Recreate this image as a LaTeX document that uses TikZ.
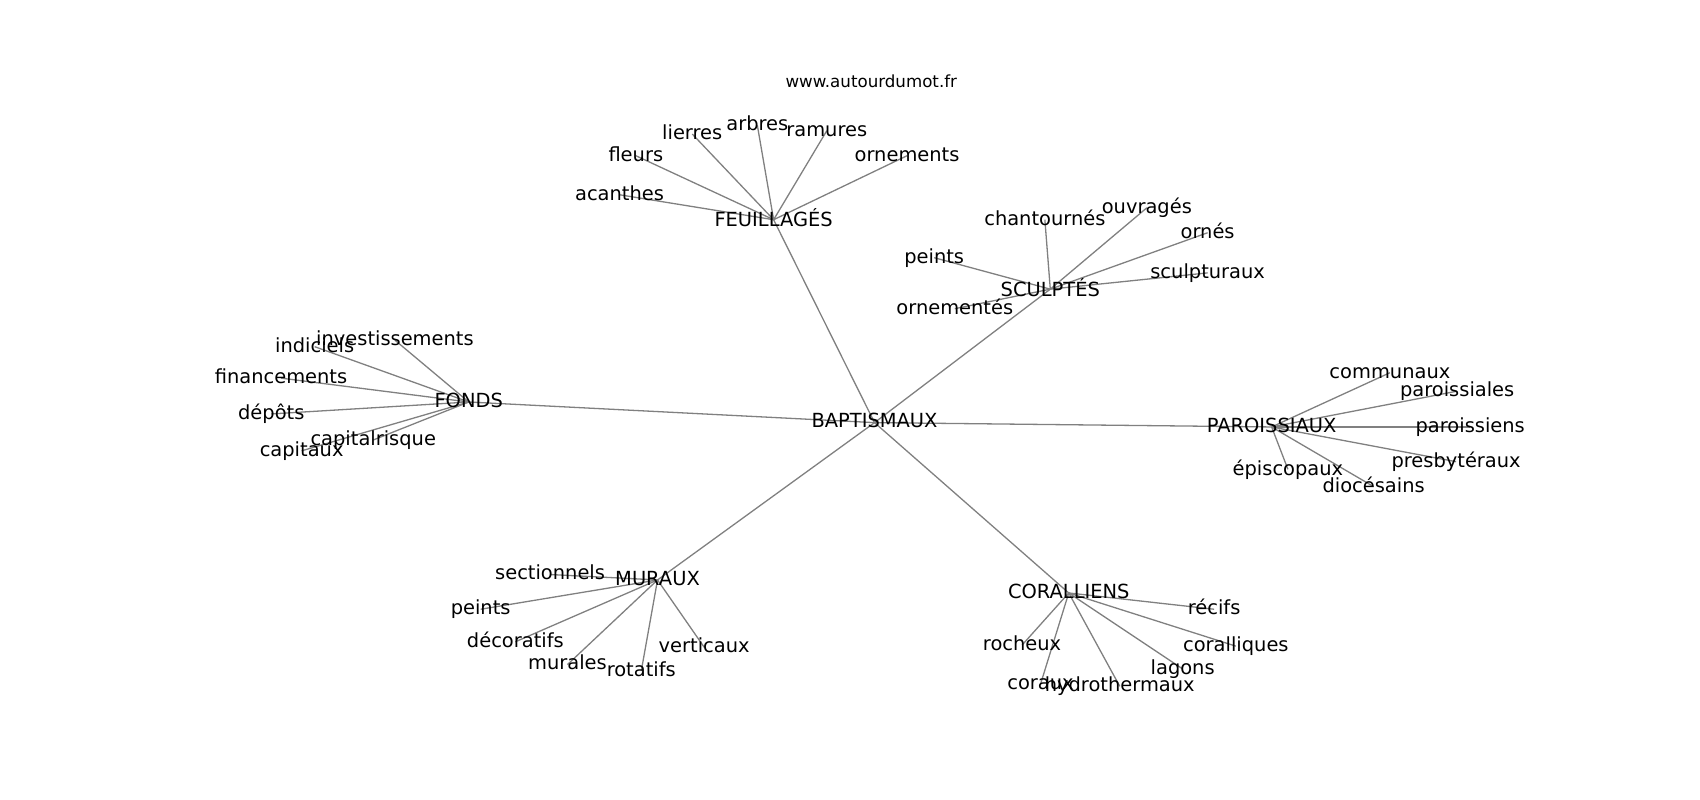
\documentclass[tikz,border=0pt]{standalone}
\usepackage{fontspec}
\setmainfont{DejaVu Sans}
\usetikzlibrary{backgrounds}
\begin{document}
\begin{tikzpicture}[x=1.085pt,y=-1.085pt,
  lbl/.style={font=\fontsize{19.44}{23}\selectfont, inner sep=0pt, anchor=center, execute at begin node=\vphantom{lp}},
  ttl/.style={font=\fontsize{16.67}{20}\selectfont, inner sep=0pt, anchor=center, execute at begin node=\vphantom{lp}},
  link/.style={draw=black!50, line width=1.3pt}]
\useasboundingbox (0,0) rectangle (1566.8,737.3);
\begin{scope}[yshift=-1.5*1.085pt]
\node[ttl] (title) at (803,75) {www.autourdumot.fr};
% hubs
\node[lbl] (bap) at (806,388) {BAPTISMAUX};
\node[lbl] (feu) at (713,201) {FEUILLAGÉS};
\node[lbl] (scu) at (968,265) {SCULPTÉS};
\node[lbl] (fon) at (432,369) {FONDS};
\node[lbl] (par) at (1172,392) {PAROISSIAUX};
\node[lbl] (mur) at (606,533) {MURAUX};
\node[lbl] (cor) at (985,545) {CORALLIENS};
% feuillages
\node[lbl] (acanthes) at (571,178) {acanthes};
\node[lbl] (fleurs) at (586,142) {fleurs};
\node[lbl] (lierres) at (638,122) {lierres};
\node[lbl] (arbres) at (698,114) {arbres};
\node[lbl] (ramures) at (762,119) {ramures};
\node[lbl] (ornements) at (836,142) {ornements};
% sculptes
\node[lbl] (chantournes) at (963,201) {chantournés};
\node[lbl] (ouvrages) at (1057,190) {ouvragés};
\node[lbl] (ornes) at (1113,213) {ornés};
\node[lbl] (sculpturaux) at (1113,250) {sculpturaux};
\node[lbl] (peintsA) at (861,236) {peints};
\node[lbl] (ornementes) at (880,283) {ornementés};
% fonds
\node[lbl] (invest) at (364,312) {investissements};
\node[lbl] (indiciels) at (290,318) {indiciels};
\node[lbl] (financements) at (259,347) {financements};
\node[lbl] (depots) at (250,380) {dépôts};
\node[lbl] (capitalrisque) at (344,404) {capitalrisque};
\node[lbl] (capitaux) at (278,414) {capitaux};
% paroissiaux
\node[lbl] (communaux) at (1281,342) {communaux};
\node[lbl] (paroissiales) at (1343,359) {paroissiales};
\node[lbl] (paroissiens) at (1355,392) {paroissiens};
\node[lbl] (presbyteraux) at (1342,424) {presbytéraux};
\node[lbl] (episcopaux) at (1187,431) {épiscopaux};
\node[lbl] (diocesains) at (1266,447) {diocésains};
% muraux
\node[lbl] (sectionnels) at (507,528) {sectionnels};
\node[lbl] (peintsB) at (443,560) {peints};
\node[lbl] (decoratifs) at (475,590) {décoratifs};
\node[lbl] (murales) at (523,611) {murales};
\node[lbl] (rotatifs) at (591,617) {rotatifs};
\node[lbl] (verticaux) at (649,595) {verticaux};
% coralliens
\node[lbl] (recifs) at (1119,560) {récifs};
\node[lbl] (coralliques) at (1139,594) {coralliques};
\node[lbl] (rocheux) at (942,593) {rocheux};
\node[lbl] (coraux) at (959,629) {coraux};
\node[lbl] (hydro) at (1032,631) {hydrothermaux};
\node[lbl] (lagons) at (1090,615) {lagons};
\end{scope}
\begin{scope}[on background layer]
\foreach \h in {feu,scu,fon,par,mur,cor} \draw[link] (bap.center) -- (\h.center);
\foreach \l in {acanthes,fleurs,lierres,arbres,ramures,ornements} \draw[link] (feu.center) -- (\l.center);
\foreach \l in {chantournes,ouvrages,ornes,sculpturaux,peintsA,ornementes} \draw[link] (scu.center) -- (\l.center);
\foreach \l in {invest,indiciels,financements,depots,capitalrisque,capitaux} \draw[link] (fon.center) -- (\l.center);
\foreach \l in {communaux,paroissiales,paroissiens,presbyteraux,episcopaux,diocesains} \draw[link] (par.center) -- (\l.center);
\foreach \l in {sectionnels,peintsB,decoratifs,murales,rotatifs,verticaux} \draw[link] (mur.center) -- (\l.center);
\foreach \l in {recifs,coralliques,rocheux,coraux,hydro,lagons} \draw[link] (cor.center) -- (\l.center);
\end{scope}
\end{tikzpicture}
\end{document}
